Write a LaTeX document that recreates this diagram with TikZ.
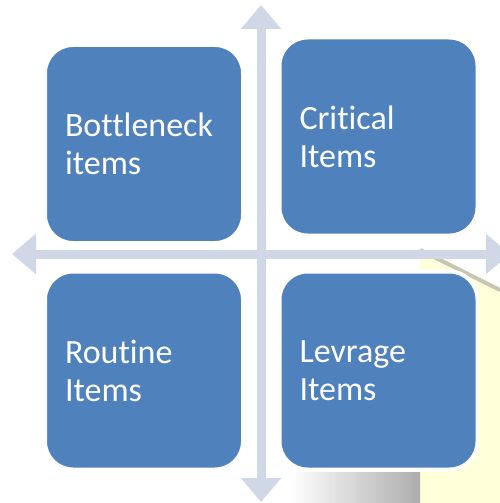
\documentclass[tikz,border=0pt]{standalone}
\usepackage{fontspec}
\setmainfont{Carlito}[Ligatures={NoCommon}]
\usepackage{tikz}
\usetikzlibrary{arrows.meta,% arrow tips with width and length
shadings}
\definecolor{boxblue}{RGB}{79,129,189}
\definecolor{axisgray}{RGB}{208,216,232}
\definecolor{paleyellow}{RGB}{255,255,218}
\tikzset{every node/.style={font=\fontsize{34}{38}\selectfont},
  itembox/.style={rectangle,rounded corners=28pt,fill=boxblue,draw=white,line width=4pt,
    minimum width=198pt,minimum height=198pt,text width=158pt,inner xsep=20pt,
    align=left,text=white},
  axis/.style={axisgray,line width=9pt,{Triangle[width=39pt,length=24pt]}-{Triangle[width=39pt,length=24pt]}}}

\begin{document}
\begin{tikzpicture}[x=1pt,y=-1pt]
    \useasboundingbox (0,0) rectangle (500,503);
    \clip (0,0) rectangle (500,503);
    % pale patch behind the lower right box
    \fill[paleyellow] (420,251) -- (500,291) -- (500,503) -- (420,503) -- cycle;
    \draw[line width=4pt,gray!45!paleyellow] (420,250) -- (500,290);
    \shade[left color=white,right color=gray!65] (290,472) rectangle (420,503);
    % axes
    \coordinate (top) at (261,5);
    \coordinate (bottom) at (261,502);
    \coordinate (left) at (12,254);
    \coordinate (right) at (510,254);
    \draw[axis] (bottom) -- (top);
    \draw[axis] (left) -- (right);
    % quadrants
    \node[itembox] (bottleneck) at (144,144) {Bottleneck\\items};
    \node[itembox] (critical) at (378.5,136.5) {Critical\\Items};
    \node[itembox] (routine) at (144,370.5) {Routine\\Items};
    \node[itembox] (levrage) at (378.5,370.5) {Levrage\\Items};
  \end{tikzpicture}
\end{document}
